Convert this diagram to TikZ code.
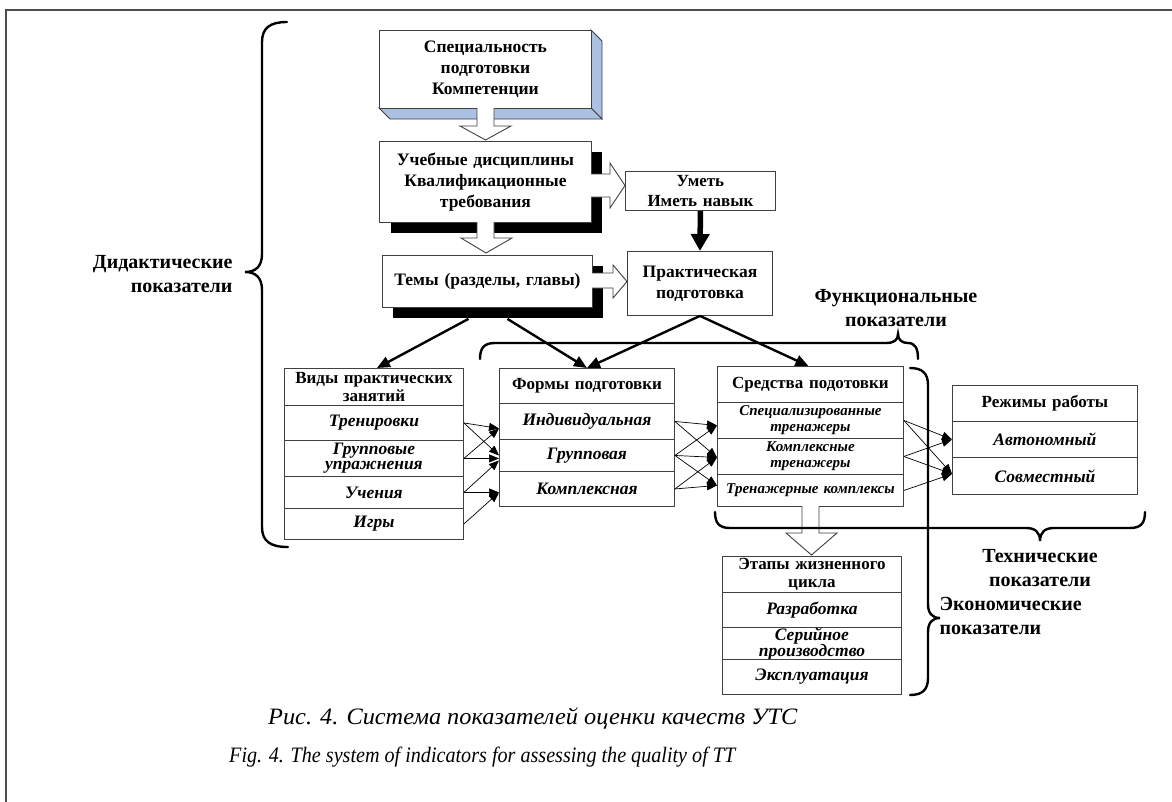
\documentclass[tikz,border=0pt]{standalone}
\usepackage{fontspec}
\usepackage{graphicx}
\setmainfont{Liberation Serif}
\usetikzlibrary{arrows.meta,calc}
\definecolor{boxc}{rgb}{0.25,0.25,0.25}
\definecolor{face}{RGB}{172,192,226}
\newcommand\fhead{\bfseries\fontsize{17}{18.5}\selectfont}
\newcommand\fbig{\bfseries\fontsize{17.5}{21}\selectfont}
\newcommand\fitem{\bfseries\itshape\fontsize{17.5}{15}\selectfont}
\newcommand\fsmall{\bfseries\itshape\fontsize{15}{16}\selectfont}
\newcommand\flabel{\bfseries\fontsize{20}{24}\selectfont}
\newcommand\fcap{\itshape\fontsize{22}{26}\selectfont}
\newcommand\fcapr{\itshape\fontsize{23.5}{26}\selectfont}
\begin{document}
\begin{tikzpicture}[x=1pt,y=-1pt,
  box/.style={draw=boxc, line width=0.9pt, fill=white, inner sep=1pt, align=center, anchor=north west, font=\fbig},
  cell/.style={draw=boxc, line width=0.9pt, fill=white, inner sep=0pt, align=center, anchor=north west},
  thinarr/.style={-{Triangle[length=10pt,width=8pt]}, line width=0.7pt},
  thickarr/.style={-{Triangle[length=13pt,width=11pt]}, line width=2.4pt},
  bigarr/.style={-{Triangle[length=17pt,width=18pt]}, line width=5.5pt},
  brace/.style={line width=2.4pt, line cap=round},
  hollow/.style={draw=boxc, fill=white, line width=0.9pt, line join=miter}]
\useasboundingbox (0,0) rectangle (1172,801);
% frame
\draw[line width=2pt, draw=gray!60!black] (6,830) -- (6,10) -- (1200,10);

% top 3D box
\filldraw[fill=face, draw=boxc, line width=0.9pt] (591,30) -- (602,41) -- (602,119) -- (591,108) -- cycle;
\filldraw[fill=face, draw=boxc, line width=0.9pt] (379,108) -- (591,108) -- (602,119) -- (390,119) -- cycle;
\node[box, minimum width=212, minimum height=78, text width=205pt] (spec) at (379,30) {Специальность\\подготовки\\Компетенции};

% box 2 with shadow
\fill (391,152) rectangle (602,233);
\node[box, minimum width=212, minimum height=81, text width=205pt] (uch) at (379,141) {Учебные дисциплины\\Квалификационные\\требования};

% box 3 with shadow
\fill (393,266) rectangle (603,318);
\node[box, minimum width=210, minimum height=52, text width=205pt] (tem) at (382,255) {Темы (разделы, главы)};

% Уметь, Практическая
\node[box, minimum width=150, minimum height=39, text width=146pt, font=\bfseries\fontsize{17}{20}\selectfont] (umet) at (625,171) {Уметь\\Иметь навык};
\node[box, minimum width=145, minimum height=64, text width=140pt] (prak) at (627,251) {Практическая\\подготовка};

% hollow arrows
\draw[hollow] (477,108) -- (477,126) -- (460,126) -- (485.5,140) -- (511,126) -- (494,126) -- (494,108);
\draw[hollow] (477,222) -- (477,238) -- (461,238) -- (486,253) -- (512,238) -- (494,238) -- (494,222);
\draw[hollow] (591,174) -- (610,174) -- (610,163) -- (625,185.5) -- (610,208) -- (610,197) -- (591,197);
\draw[hollow] (592,273) -- (613,273) -- (613,265) -- (627,281.5) -- (613,298) -- (613,288) -- (592,288);

% Виды
\node[cell, minimum width=179, minimum height=37, text width=175pt, font=\fhead] (v0) at (284,368) {Виды практических\\занятий};
\node[cell, minimum width=179, minimum height=35, text width=175pt, font=\fitem] (v1) at (284,405) {Тренировки};
\node[cell, minimum width=179, minimum height=36, text width=175pt, font=\fitem] (v2) at (284,440) {Групповые\\упражнения};
\node[cell, minimum width=179, minimum height=32, text width=175pt, font=\fitem] (v3) at (284,476) {Учения};
\node[cell, minimum width=179, minimum height=31, text width=175pt, font=\fitem] (v4) at (284,508) {Игры};

% Формы
\node[cell, minimum width=175, minimum height=35, text width=171pt, font=\fhead] (f0) at (499,368) {Формы подготовки};
\node[cell, minimum width=175, minimum height=36, text width=171pt, font=\fitem] (f1) at (499,403) {Индивидуальная};
\node[cell, minimum width=175, minimum height=32, text width=171pt, font=\fitem] (f2) at (499,439) {Групповая};
\node[cell, minimum width=175, minimum height=35, text width=171pt, font=\fitem] (f3) at (499,471) {Комплексная};

% Средства
\node[cell, minimum width=186, minimum height=36, text width=182pt, font=\fhead] (s0) at (717,366) {Средства подотовки};
\node[cell, minimum width=186, minimum height=36, text width=182pt, font=\fsmall] (s1) at (717,402) {Специализированные\\тренажеры};
\node[cell, minimum width=186, minimum height=36, text width=182pt, font=\fsmall] (s2) at (717,438) {Комплексные\\тренажеры};
\node[cell, minimum width=186, minimum height=32, text width=182pt, font=\fsmall] (s3) at (717,474) {Тренажерные комплексы};

% Режимы
\node[cell, minimum width=185, minimum height=36, text width=181pt, font=\fhead] (r0) at (952,385) {Режимы работы};
\node[cell, minimum width=185, minimum height=36, text width=181pt, font=\fitem] (r1) at (952,421) {Автономный};
\node[cell, minimum width=185, minimum height=37, text width=181pt, font=\fitem] (r2) at (952,457) {Совместный};

% Этапы
\node[cell, minimum width=179, minimum height=36, text width=175pt, font=\fhead] (e0) at (722,556) {Этапы жизненного\\цикла};
\node[cell, minimum width=179, minimum height=35, text width=175pt, font=\fitem] (e1) at (722,592) {Разработка};
\node[cell, minimum width=179, minimum height=32, text width=175pt, font=\fitem] (e2) at (722,627) {Серийное\\производство};
\node[cell, minimum width=179, minimum height=35, text width=175pt, font=\fitem] (e3) at (722,659) {Эксплуатация};

% hollow arrow Средства -> Этапы
\draw[hollow] (802,506) -- (802,533) -- (786,533) -- (811.5,555) -- (837,533) -- (819,533) -- (819,506);

% thick arrows
\draw[bigarr] (umet.south) -- (prak.north);
\draw[thickarr] ($(tem.south)+(-19,11)$) -- ($(v0.north)+(3,0)$);
\draw[thickarr] ($(tem.south)+(20,11)$) -- ($(f0.north)+(0,0)$);
\draw[thickarr] (prak.south) -- ($(f0.north)+(0,0)$);
\draw[thickarr] (prak.south) -- ($(s0.north)+(-2,0)$);

% thin arrows Виды -> Формы
\draw[thinarr] (v1.east) -- ($(f1.west)+(0,7)$);
\draw[thinarr] (v1.east) -- ($(f2.west)+(0,0)$);
\draw[thinarr] (v2.east) -- ($(f1.west)+(0,7)$);
\draw[thinarr] (v2.east) -- ($(f2.west)+(0,3)$);
\draw[thinarr] (v3.east) -- ($(f2.west)+(0,5)$);
\draw[thinarr] (v3.east) -- ($(f3.west)+(0,3.5)$);
\draw[thinarr] (v4.east) -- ($(f3.west)+(0,3.5)$);
% Формы -> Средства
\draw[thinarr] (f1.east) -- ($(s1.west)+(0,5)$);
\draw[thinarr] (f1.east) -- ($(s2.west)+(0,1)$);
\draw[thinarr] (f2.east) -- ($(s1.west)+(0,5)$);
\draw[thinarr] (f2.east) -- ($(s2.west)+(0,1)$);
\draw[thinarr] (f2.east) -- ($(s3.west)+(0,-5)$);
\draw[thinarr] (f3.east) -- ($(s2.west)+(0,1)$);
\draw[thinarr] (f3.east) -- ($(s3.west)+(0,-5)$);
% Средства -> Режимы
\draw[thinarr] (s1.east) -- ($(r1.west)+(0,0)$);
\draw[thinarr] (s1.east) -- ($(r2.west)+(0,-2)$);
\draw[thinarr] (s2.east) -- ($(r1.west)+(0,0)$);
\draw[thinarr] (s2.east) -- ($(r2.west)+(0,-2)$);
\draw[thinarr] (s3.east) -- ($(r2.west)+(0,-2)$);

% braces
\draw[brace] (287,22) .. controls (270,22) and (262,28) .. (262,42) -- (262,254) .. controls (262,266) and (256,272) .. (245,272) .. controls (256,272) and (262,278) .. (262,290) -- (262,527) .. controls (262,541) and (270,547) .. (288,547);
\draw[brace] (480,359) .. controls (480,348) and (484,343) .. (495,343) -- (886,343) .. controls (894,343) and (898,340) .. (898,334) .. controls (898,340) and (902,343) .. (908,343) .. controls (915,343) and (918,348) .. (918,359);
\draw[brace] (715,512) .. controls (715,523) and (719,528) .. (730,528) -- (1026,528) .. controls (1035,528) and (1040,532) .. (1040,541) .. controls (1040,532) and (1045,528) .. (1054,528) -- (1130,528) .. controls (1141,528) and (1145,523) .. (1145,512);
\draw[brace] (910,368) .. controls (922,368) and (928,373) .. (928,385) -- (928,604) .. controls (928,613) and (932,618) .. (940,618) .. controls (932,618) and (928,623) .. (928,632) -- (928,678) .. controls (928,690) and (922,695) .. (910,695);

% labels
\node[font=\flabel, align=right, anchor=east] (ldid) at (236,274) {Дидактические\\показатели};
\node[font=\flabel, align=center] (lfun) at (896,308) {Функциональные\\показатели};
\node[font=\flabel, align=center] (ltex) at (1040,568) {Технические\\показатели};
\node[font=\flabel, align=left, anchor=west] (leco) at (936,616) {Экономические\\показатели};

% captions
\node[font=\fcapr, inner sep=0pt, anchor=west] (cap1) at (268,718) {\scalebox{1.035}[1]{Рис. 4. Система показателей оценки качеств УТС}};
\node[font=\fcap, inner sep=0pt, anchor=west] (cap2) at (229,757) {\scalebox{0.915}[1]{Fig. 4. The system of indicators for assessing the quality of TT}};
\end{tikzpicture}
\end{document}
